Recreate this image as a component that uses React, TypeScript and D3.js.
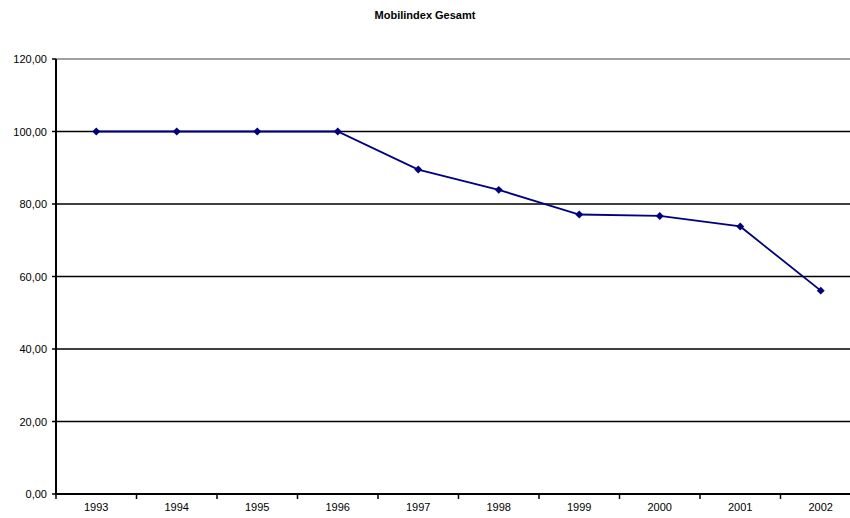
import React, { useEffect, useRef } from "react";
import * as d3 from "d3";

const years = ["1993", "1994", "1995", "1996", "1997", "1998", "1999", "2000", "2001", "2002"];
const values = [100, 100, 100, 100, 89.5, 83.9, 77.1, 76.7, 73.8, 56.1];
const yTicks = [0, 20, 40, 60, 80, 100, 120];
const title = "Mobilindex Gesamt";

export default function App() {
  const ref = useRef<SVGSVGElement | null>(null);
  useEffect(() => {
    const svg = d3.select(ref.current);
    svg.selectAll("*").remove();
    const W = 850, H = 518;
    const left = 56, right = 56 + 10 * 80.5, top = 59, bottom = 494;
    const x = d3.scaleBand<string>().domain(years).range([left, right]);
    const y = d3.scaleLinear().domain([0, 120]).range([bottom, top]);
    const font = "'Liberation Sans', Arial, sans-serif";

    svg.append("text").attr("x", W / 2).attr("y", 19).attr("text-anchor", "middle")
      .attr("font-family", font).attr("font-size", 11).attr("font-weight", "bold").text(title);

    // gridlines
    svg.append("g").selectAll("line").data(yTicks.filter(t => t > 0)).join("line")
      .attr("x1", left).attr("x2", W)
      .attr("y1", d => y(d)).attr("y2", d => y(d))
      .attr("stroke", d => (d === 120 ? "#808080" : "#000")).attr("stroke-width", 1.5);

    // y axis
    const ya = svg.append("g");
    ya.append("line").attr("x1", left).attr("x2", left).attr("y1", top).attr("y2", bottom + 1)
      .attr("stroke", "#000").attr("stroke-width", 2);
    ya.selectAll("line.t").data(yTicks).join("line").attr("class", "t")
      .attr("x1", left - 4).attr("x2", left).attr("y1", d => y(d)).attr("y2", d => y(d))
      .attr("stroke", "#000").attr("stroke-width", 1.5);
    ya.selectAll("text").data(yTicks).join("text")
      .attr("x", left - 9).attr("y", d => y(d) + 4).attr("text-anchor", "end")
      .attr("font-family", font).attr("font-size", 11)
      .text(d => d3.format(".2f")(d).replace(".", ","));

    // x axis
    const xa = svg.append("g");
    xa.append("line").attr("x1", left).attr("x2", W).attr("y1", bottom).attr("y2", bottom)
      .attr("stroke", "#000").attr("stroke-width", 2);
    const bounds = years.map(yr => x(yr)!);
    xa.selectAll("line.t").data(bounds).join("line").attr("class", "t")
      .attr("x1", d => d).attr("x2", d => d).attr("y1", bottom).attr("y2", bottom + 5)
      .attr("stroke", "#000").attr("stroke-width", 1.5);
    xa.selectAll("text").data(years).join("text")
      .attr("x", d => x(d)! + x.bandwidth() / 2).attr("y", bottom + 17).attr("text-anchor", "middle")
      .attr("font-family", font).attr("font-size", 11).text(d => d);

    const cx = (i: number) => x(years[i])! + x.bandwidth() / 2;
    const line = d3.line<number>().x((_, i) => cx(i)).y(d => y(d));
    svg.append("path").datum(values).attr("d", line).attr("fill", "none")
      .attr("stroke", "#000080").attr("stroke-width", 1.8);
    svg.append("g").selectAll("path").data(values).join("path")
      .attr("d", d3.symbol().type(d3.symbolDiamond2).size(40)())
      .attr("transform", (d, i) => `translate(${cx(i)},${y(d)})`)
      .attr("fill", "#000080");
  }, []);
  return (
    <svg ref={ref} width={850} height={518}
      style={{ position: "absolute", left: 0, top: 0, background: "#fff" }} />
  );
}
